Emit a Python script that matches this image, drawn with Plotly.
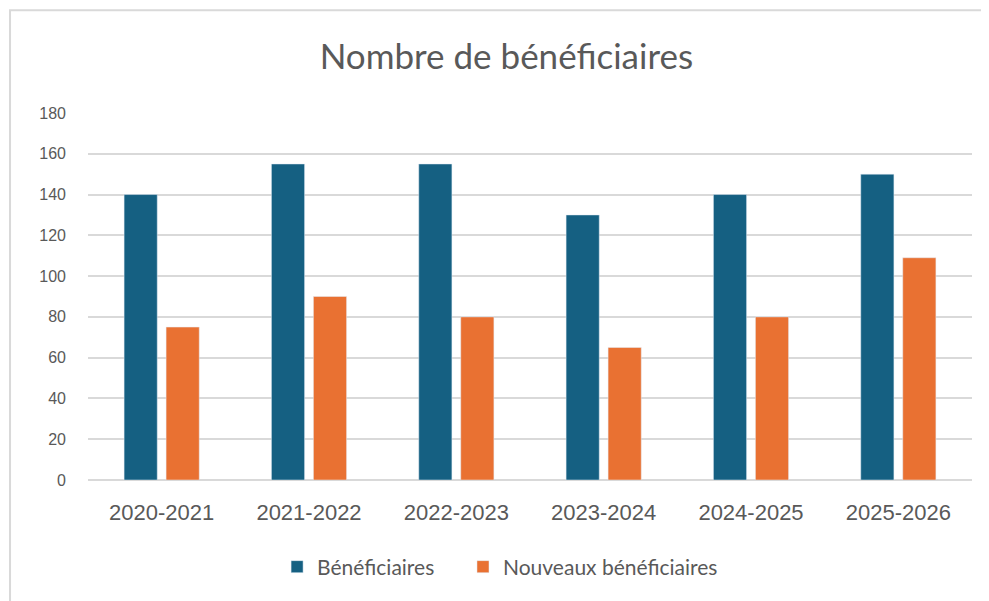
import plotly.graph_objects as go

annees = ["2020-2021", "2021-2022", "2022-2023", "2023-2024", "2024-2025", "2025-2026"]
beneficiaires = [140, 155, 155, 130, 140, 150]
nouveaux_beneficiaires = [75, 90, 80, 65, 80, 109]
ticks_y = [0, 20, 40, 60, 80, 100, 120, 140, 160, 180]

BLEU = "#156082"
ORANGE = "#E97132"
GRIS_TEXTE = "#595959"
GRIS_GRILLE = "#D9D9D9"

fig = go.Figure()
fig.add_trace(go.Bar(x=annees, y=beneficiaires, name="Bénéficiaires", marker=dict(color=BLEU),
                     legend="legend"))
fig.add_trace(go.Bar(x=annees, y=nouveaux_beneficiaires, name="Nouveaux bénéficiaires",
                     marker=dict(color=ORANGE), legend="legend2"))

# cadre gris clair autour du graphique (coupé à droite et en bas comme dans la capture)
fig.add_shape(type="rect", xref="paper", yref="paper", x0=-0.0882, x1=1.05, y0=-0.40, y1=1.2797,
              line=dict(color=GRIS_GRILLE, width=2), fillcolor="rgba(0,0,0,0)", layer="below")

legende = dict(orientation="h", xanchor="left", y=-0.237, yanchor="middle",
               font=dict(family="Lato", size=21, color=GRIS_TEXTE), itemwidth=30,
               bgcolor="rgba(0,0,0,0)")

# la page html ajoute 8 px de marge autour du graphique
fig.update_layout(
    width=981, height=593,
    margin=dict(l=80, r=17, t=105, b=121),
    title=dict(text="Nombre de bénéficiaires", x=0.508, xanchor="center", xref="container",
               y=0.917, yanchor="middle", yref="container",
               font=dict(family="Lato", size=35, color=GRIS_TEXTE)),
    barmode="group", bargap=0.43, bargroupgap=0.21,
    plot_bgcolor="white", paper_bgcolor="white",
    font=dict(family="Liberation Sans", color=GRIS_TEXTE),
    xaxis=dict(showgrid=False, showline=False, ticks="", tickfont=dict(size=22, color=GRIS_TEXTE),
               ticklabelstandoff=17),
    yaxis=dict(range=[0, 180], tickvals=ticks_y, showgrid=True, gridcolor=GRIS_GRILLE, gridwidth=1.5,
               zeroline=True, zerolinecolor=GRIS_GRILLE, zerolinewidth=1.5, showline=False,
               tickfont=dict(size=16, color=GRIS_TEXTE), ticklabelstandoff=21),
    legend=dict(legende, x=0.2139),
    legend2=dict(legende, x=0.4242),
    showlegend=True,
)

fig.write_html("out.html")
